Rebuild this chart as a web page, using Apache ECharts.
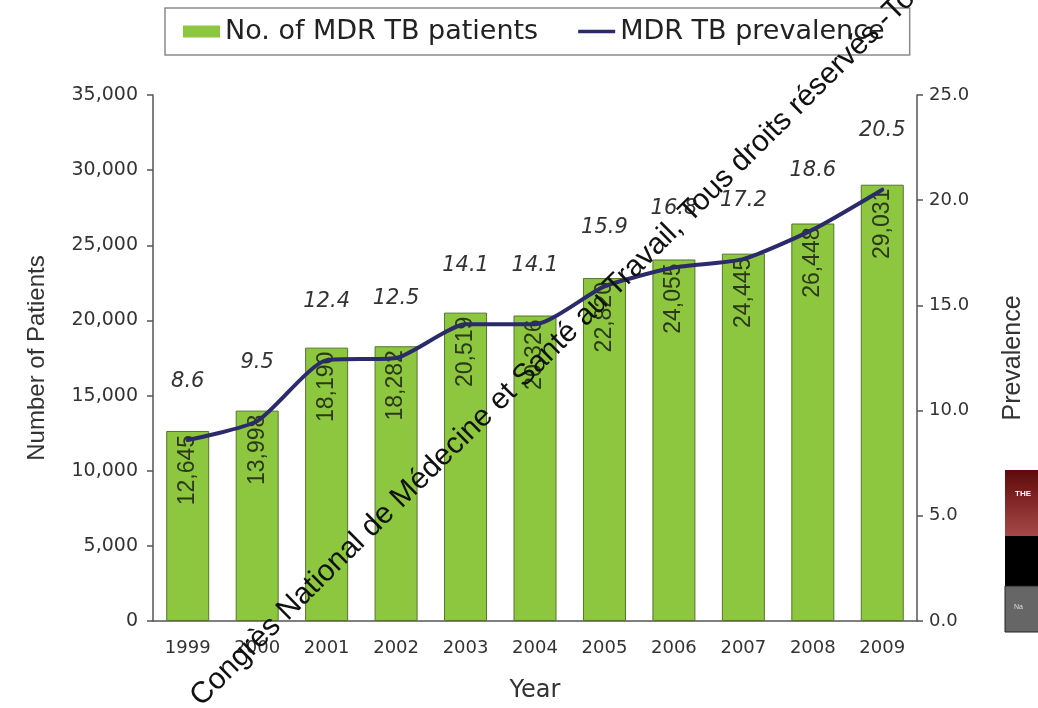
<!DOCTYPE html>
<html>
<head>
<meta charset="utf-8">
<script src="https://cdn.jsdelivr.net/npm/echarts@6/dist/echarts.min.js"></script>
<style>
  html, body { margin: 0; padding: 0; background: #fff; }
  #chart { width: 1038px; height: 708px; }
</style>
</head>
<body>
<div id="chart"></div>
<script>
// data
var years = ['1999', '2000', '2001', '2002', '2003', '2004', '2005', '2006', '2007', '2008', '2009'];
var patients = [12645, 13998, 18190, 18282, 20519, 20326, 22820, 24055, 24445, 26448, 29031];
var prevalence = [8.6, 9.5, 12.4, 12.5, 14.1, 14.1, 15.9, 16.8, 17.2, 18.6, 20.5];

// the picture is a bit stretched sideways, so the wider DejaVu is used for flat text
var wide = '"DejaVu Sans", sans-serif';
var arial = '"Liberation Sans", Arial, sans-serif';

var myChart = echarts.init(document.getElementById('chart'));
var option = {
	backgroundColor: '#fff',
	textStyle: { fontFamily: wide },
	legend: {
		left: 165,
		top: 8,
		padding: [10, 25, 10, 18],
		itemGap: 40,
		itemWidth: 37,
		itemHeight: 12,
		borderColor: '#8a8a8a',
		borderWidth: 1.5,
		textStyle: { fontSize: 27, color: '#222', fontFamily: wide },
		data: [
			{ name: 'No. of MDR TB patients', icon: 'rect', itemStyle: { color: '#8dc63f', borderWidth: 0 } },
			{ name: 'MDR TB prevalence', icon: 'path://M0,0 L40,0 L40,4 L0,4 Z', itemStyle: { color: '#2b2a6b' } }
		]
	},
	grid: { left: 153, right: 121, top: 95, bottom: 86 },
	xAxis: {
		type: 'category',
		data: years,
		name: 'Year',
		nameLocation: 'middle',
		nameGap: 58,
		nameTextStyle: { fontSize: 24, color: '#333', fontFamily: wide },
		axisLine: { lineStyle: { color: '#555', width: 1.5 } },
		axisTick: { length: 6, lineStyle: { color: '#555', width: 1.5 } },
		axisLabel: { fontSize: 18, color: '#333', margin: 18 }
	},
	yAxis: [
		{
			type: 'value',
			min: 0,
			max: 35000,
			interval: 5000,
			name: 'Number of Patients',
			nameLocation: 'middle',
			nameGap: 104,
			nameTextStyle: { fontSize: 24, color: '#333', fontFamily: arial },
			splitLine: { show: false },
			axisLine: { show: true, lineStyle: { color: '#555', width: 1.5 } },
			axisTick: { show: true, length: 6, lineStyle: { color: '#555', width: 1.5 } },
			axisLabel: {
				fontSize: 19, color: '#333', margin: 15,
				formatter: function (v) { return v.toLocaleString('en-US'); }
			}
		},
		{
			type: 'value',
			min: 0,
			max: 25,
			interval: 5,
			name: 'Prevalence',
			nameLocation: 'middle',
			nameGap: 84,
			nameTextStyle: { fontSize: 25, color: '#333', fontFamily: arial },
			splitLine: { show: false },
			axisLine: { show: true, lineStyle: { color: '#555', width: 1.5 } },
			axisTick: { show: true, length: 6, lineStyle: { color: '#555', width: 1.5 } },
			axisLabel: {
				fontSize: 18, color: '#333', margin: 12,
				formatter: function (v) { return v.toFixed(1); }
			}
		}
	],
	series: [
		{
			name: 'No. of MDR TB patients',
			type: 'bar',
			barWidth: 43,
			data: patients,
			itemStyle: { color: '#8dc63f', borderColor: '#55752a', borderWidth: 1 },
			label: {
				show: true,
				position: 'insideTop',
				rotate: 90,
				align: 'right',
				verticalAlign: 'middle',
				distance: 4,
				fontSize: 23,
				fontFamily: arial,
				color: '#2c3818',
				formatter: function (p) { return p.value.toLocaleString('en-US'); }
			},
			z: 2
		},
		{
			name: 'MDR TB prevalence',
			type: 'line',
			yAxisIndex: 1,
			data: prevalence,
			smooth: 0.2,
			symbol: 'circle',
			symbolSize: 1,
			showSymbol: true,
			lineStyle: { color: '#2b2a6b', width: 4, cap: 'round', join: 'round' },
			itemStyle: { color: '#2b2a6b' },
			label: {
				show: true,
				position: 'top',
				distance: 48,
				fontSize: 21,
				fontStyle: 'italic',
				fontFamily: wide,
				color: '#333',
				formatter: function (p) { return p.value.toFixed(1); }
			},
			z: 3
		}
	],
	graphic: [
		{
			type: 'text',
			x: 206,
			y: 712,
			rotation: 0.78,
			z: 100,
			style: {
				text: 'Congrès National de Médecine et Santé au Travail, Tous droits réservés -Toute reproduction interdite',
				fill: '#111',
				font: '30px "Liberation Sans", Arial, sans-serif',
				textVerticalAlign: 'bottom'
			}
		},
		{
			type: 'group',
			children: [
				{ type: 'rect', shape: { x: 1005, y: 470, width: 40, height: 66 },
				  style: { fill: new echarts.graphic.LinearGradient(0, 0, 0, 1, [{ offset: 0, color: '#5e0a0a' }, { offset: 1, color: '#a84848' }]) } },
				{ type: 'rect', shape: { x: 1005, y: 536, width: 40, height: 50 }, style: { fill: '#000' } },
				{ type: 'rect', shape: { x: 1005, y: 586, width: 40, height: 46 }, style: { fill: '#666', stroke: '#222', lineWidth: 1 } },
				{ type: 'text', x: 1015, y: 490, style: { text: 'THE', fill: '#fff', font: 'bold 8px "Liberation Sans", Arial' } },
				{ type: 'text', x: 1014, y: 604, style: { text: 'Na', fill: '#ddd', font: '7px "Liberation Sans", Arial' } }
			]
		}
	]
};
myChart.setOption(option);
</script>
</body>
</html>
